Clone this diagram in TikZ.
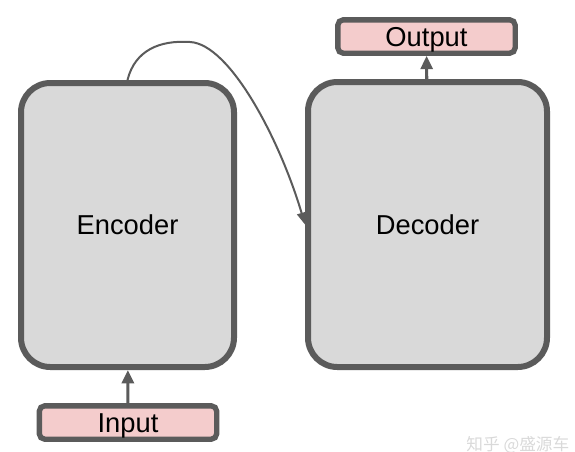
\documentclass[tikz,border=0pt]{standalone}
\usepackage{fontspec}
\setmainfont{Liberation Sans}
\newfontfamily\cjk{Noto Sans CJK SC}
\usetikzlibrary{arrows.meta}
\definecolor{edgegray}{HTML}{5B5B5B}
\definecolor{boxgray}{HTML}{D9D9D9}
\definecolor{boxpink}{HTML}{F4CCCC}
\tikzset{
  bigbox/.style={draw=edgegray, fill=boxgray, line width=4.5pt, rounded corners=22pt, font=\fontsize{20.5}{23}\selectfont},
  iobox/.style={draw=edgegray, fill=boxpink, line width=4pt, rounded corners=4pt, minimum width=133pt, minimum height=25pt, inner sep=0pt, text height=14.7pt, text depth=0pt, font=\fontsize{20.5}{23}\selectfont},
  flow/.style={draw=edgegray, line width=2.3pt, -{Triangle[length=10pt,width=9pt]}},
  skip/.style={draw=edgegray, line width=1.5pt, -{Triangle[length=9pt,width=7pt]}}
}
\begin{document}
\begin{tikzpicture}[x=0.75pt, y=-0.75pt]
\useasboundingbox (0,0) rectangle (575,451);

 % boxes
 \node[bigbox, minimum width=159.75pt, minimum height=213pt] (enc) at (127.5,225) {Encoder};
 \node[bigbox, minimum width=179.25pt, minimum height=213.75pt] (dec) at (427.5,224.5) {Decoder};
 \node[iobox] (inp) at (128,422.5) {Input};
 \node[iobox] (outp) at (426.5,36.5) {Output};

 % lines
 \path[flow] (inp) -- (enc);
 \path[flow] (dec) -- (outp);
 \path[skip] (enc.north) .. controls (135,50) and (160,40) .. (190,42)
             .. controls (230,44) and (280,140) .. (dec.west);

 \node[text=black!15, font=\cjk\fontsize{12.5}{14}\selectfont, anchor=east] (mark) at (574,445) {知乎 @盛源车};
\end{tikzpicture}
\end{document}
